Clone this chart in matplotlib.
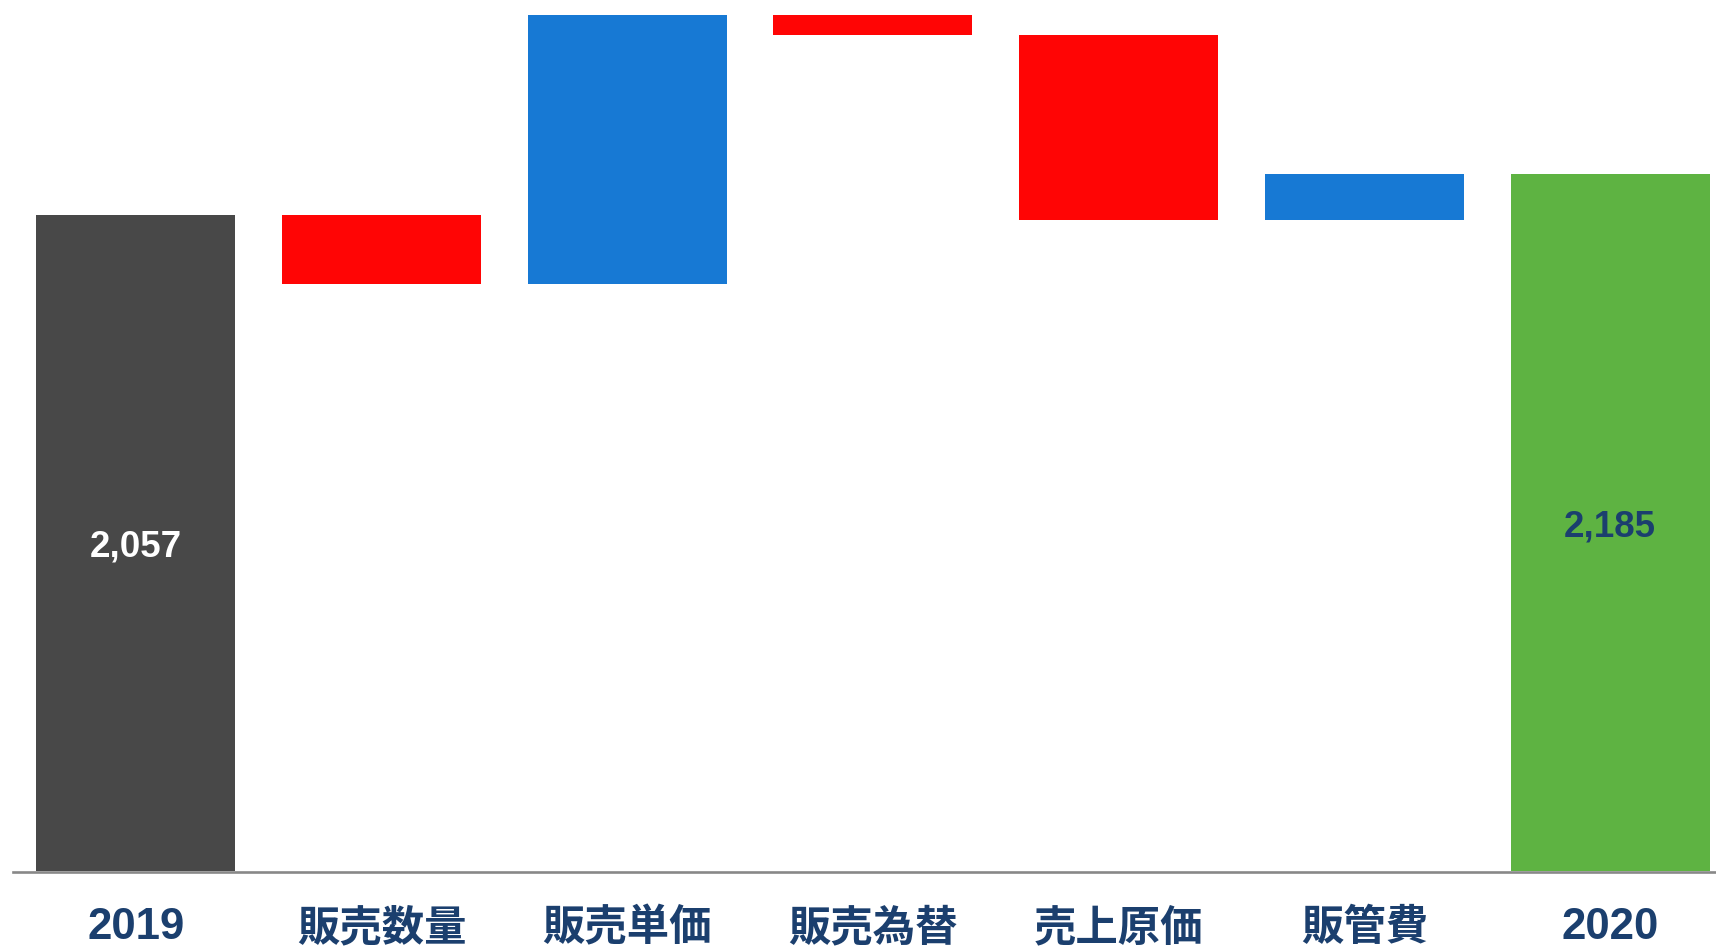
import matplotlib
matplotlib.use("Agg")
import matplotlib.pyplot as plt
import numpy as np

# ---- data ----
categories = ['2019', '販売数量', '販売単価', '販売為替', '売上原価', '販管費', '2020']
start_value = 2057
deltas = [-218, 844, -64, -580, 146]
end_value = 2185
start_label = '2,057'
end_label = '2,185'

# ---- colours ----
c_start = '#484848'
c_neg = '#ff0505'
c_pos = '#1779d4'
c_end = '#5eb342'
c_text = '#1b3f6e'

W, H = 1716, 949
fig = plt.figure(figsize=(W / 100, H / 100), dpi=100)
ax = fig.add_axes([13 / W, (H - 871) / H, (W - 13) / W, 871 / H])

x = np.arange(len(categories))
cum = start_value + np.cumsum(deltas)
prev = np.concatenate([[start_value], cum[:-1]])
bottoms = np.minimum(prev, cum)
heights = np.abs(deltas)
colors = [c_pos if d > 0 else c_neg for d in deltas]

bw = 0.81
ax.bar(x[0], start_value, width=bw, color=c_start, zorder=2)
ax.bar(x[1:-1], heights, bottom=bottoms, width=bw, color=colors, zorder=2)
ax.bar(x[-1], end_value, width=bw, color=c_end, zorder=2)

ax.text(x[0], start_value / 2 - 13, start_label, ha='center', va='center',
        color='white', fontsize=26.5, fontweight='bold',
        family=['Liberation Sans', 'DejaVu Sans'])
ax.text(x[-1], end_value / 2 - 13, end_label, ha='center', va='center',
        color=c_text, fontsize=26.5, fontweight='bold',
        family=['Liberation Sans', 'DejaVu Sans'])

ax.set_xlim(-0.5, (W - 135.85) / 245.7)
ax.set_ylim(0, 871 / 0.31906)

for s in ['top', 'right', 'left']:
    ax.spines[s].set_visible(False)
ax.spines['bottom'].set_color('#888888')
ax.spines['bottom'].set_linewidth(1.9)
ax.spines['bottom'].set_position(('data', -4.5))
ax.set_xticks([])
ax.set_yticks([])

base_num = (871 - 939) / 871
base_cjk = (871 - 940) / 871
for xi, cat in zip(x, categories):
    if cat.isdigit():
        ax.text(xi, base_num, cat, transform=ax.get_xaxis_transform(),
                ha='center', va='baseline', color=c_text, fontsize=31.5,
                fontweight='bold',
                family=['Liberation Sans', 'DejaVu Sans'],
                clip_on=False)
    else:
        ax.text(xi, base_cjk, cat, transform=ax.get_xaxis_transform(),
                ha='center', va='baseline', color=c_text, fontsize=30.5,
                fontweight='bold',
                family=['Noto Sans CJK JP', 'DejaVu Sans'],
                clip_on=False)

fig.savefig('out.png', dpi=100)
